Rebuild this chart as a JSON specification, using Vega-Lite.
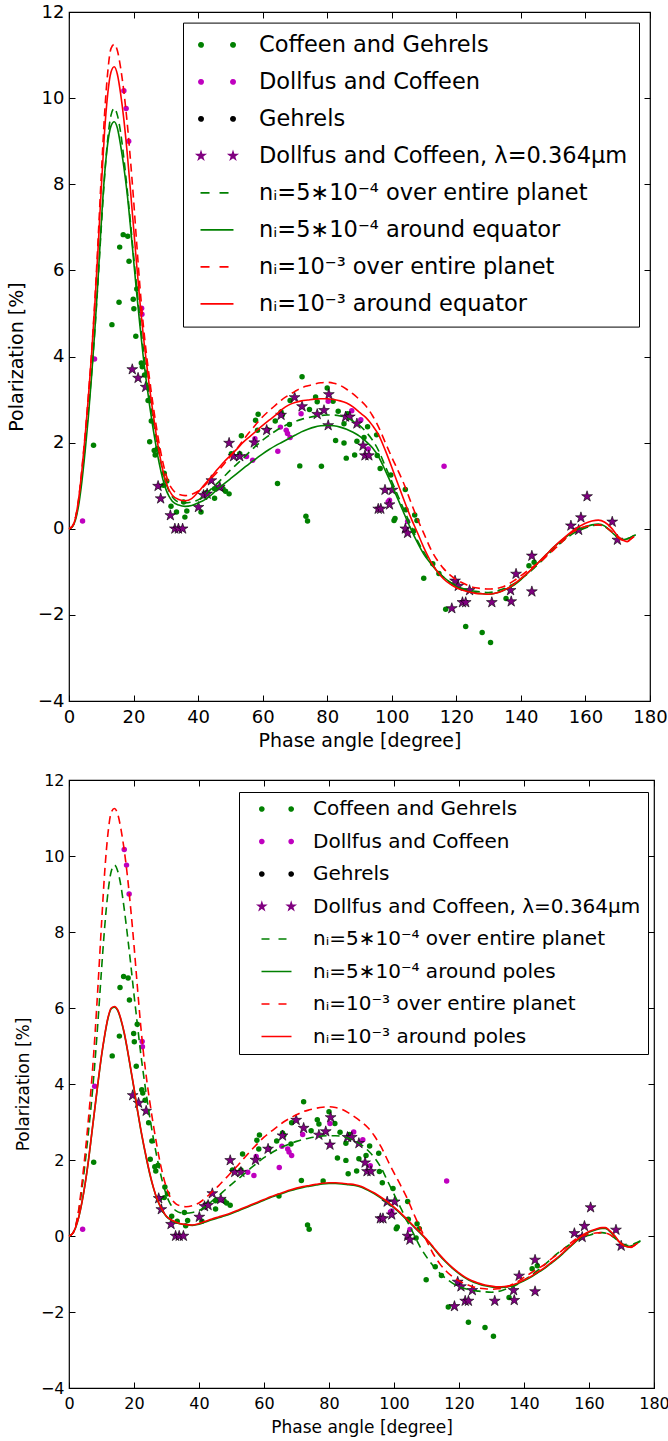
{
"$schema": "https://vega.github.io/schema/vega-lite/v6.json",
"padding": {"left": 6, "top": 2, "right": 5, "bottom": 5},
"spacing": 20,
"config": {
  "font": "DejaVu Sans",
  "view": {"stroke": "black", "strokeWidth": 1.2},
  "axis": {"grid": false, "domain": false, "ticks": true, "tickColor": "black", "tickWidth": 1, "labelColor": "black", "titleColor": "black", "titleFontWeight": "normal", "labelFont": "DejaVu Sans", "titleFont": "DejaVu Sans", "labelFlush": false, "labelOverlap": false},
  "legend": {"labelFont": "DejaVu Sans", "labelColor": "black", "labelLimit": 800, "strokeColor": "black", "fillColor": "white"}
},
"resolve": {"scale": {"color": "independent"}, "legend": {"color": "independent"}},
"datasets": {
"cg": [{"x":7.6,"y":1.94},{"x":13.3,"y":4.74},{"x":15.5,"y":5.26},{"x":15.7,"y":6.54},{"x":16.8,"y":6.83},{"x":18.2,"y":6.79},{"x":18.6,"y":6.21},{"x":19.9,"y":5.33},{"x":20.1,"y":5.11},{"x":20.7,"y":4.47},{"x":21.0,"y":5.57},{"x":22.4,"y":3.85},{"x":22.7,"y":3.76},{"x":23.4,"y":3.57},{"x":24.5,"y":2.98},{"x":25.5,"y":2.5},{"x":25.0,"y":2.02},{"x":26.4,"y":1.82},{"x":26.7,"y":1.71},{"x":27.4,"y":1.86},{"x":27.9,"y":0.99},{"x":29.3,"y":1.01},{"x":29.5,"y":1.29},{"x":30.3,"y":1.11},{"x":31.6,"y":0.52},{"x":33.3,"y":0.39},{"x":35.5,"y":0.62},{"x":35.9,"y":0.27},{"x":36.5,"y":0.41},{"x":40.9,"y":0.39},{"x":42.7,"y":0.84},{"x":45.1,"y":0.71},{"x":45.1,"y":0.93},{"x":47.7,"y":0.93},{"x":48.5,"y":0.87},{"x":49.6,"y":0.81},{"x":50.3,"y":1.74},{"x":52.9,"y":1.74},{"x":53.4,"y":2.16},{"x":57.8,"y":2.52},{"x":58.6,"y":2.66},{"x":58.4,"y":2.29},{"x":61.5,"y":2.3},{"x":63.9,"y":2.5},{"x":64.6,"y":1.05},{"x":65.7,"y":2.71},{"x":66.1,"y":2.65},{"x":68.3,"y":2.42},{"x":68.5,"y":2.98},{"x":71.5,"y":1.46},{"x":72.2,"y":3.53},{"x":73.4,"y":0.29},{"x":73.9,"y":0.18},{"x":74.5,"y":2.77},{"x":76.4,"y":3.06},{"x":76.9,"y":2.95},{"x":78.2,"y":1.45},{"x":80.0,"y":3.27},{"x":81.8,"y":2.96},{"x":82.6,"y":2.05},{"x":83.4,"y":2.73},{"x":85.2,"y":1.99},{"x":85.9,"y":1.64},{"x":85.2,"y":2.44},{"x":86.3,"y":2.67},{"x":88.5,"y":1.71},{"x":89.2,"y":2.03},{"x":91.4,"y":2.12},{"x":92.5,"y":2.37},{"x":95.3,"y":2.18},{"x":95.5,"y":1.7},{"x":96.4,"y":1.4},{"x":99.7,"y":1.25},{"x":101.0,"y":0.24},{"x":100.7,"y":0.19},{"x":104.2,"y":0.91},{"x":104.4,"y":0.44},{"x":107.1,"y":0.32},{"x":107.8,"y":0.19},{"x":106.8,"y":-0.05},{"x":109.9,"y":-1.15},{"x":112.7,"y":-0.81},{"x":114.6,"y":-1.04},{"x":116.7,"y":-1.87},{"x":122.9,"y":-2.27},{"x":128.0,"y":-2.41},{"x":130.6,"y":-2.64},{"x":135.4,"y":-1.62},{"x":142.5,"y":-0.86},{"x":144.1,"y":-0.78}],
"dc": [{"x":4.2,"y":0.18},{"x":7.9,"y":3.94},{"x":17.0,"y":10.17},{"x":17.7,"y":9.76},{"x":18.5,"y":9.0},{"x":22.5,"y":5.12},{"x":22.6,"y":4.98},{"x":46.9,"y":0.95},{"x":55.0,"y":1.68},{"x":56.9,"y":1.59},{"x":57.6,"y":2.09},{"x":64.7,"y":1.8},{"x":65.5,"y":2.36},{"x":67.3,"y":2.29},{"x":67.7,"y":2.21},{"x":68.5,"y":2.12},{"x":71.9,"y":2.67},{"x":80.3,"y":2.96},{"x":87.6,"y":2.74},{"x":90.4,"y":2.53},{"x":92.7,"y":1.85},{"x":98.9,"y":0.63},{"x":99.3,"y":0.66},{"x":104.9,"y":0.17},{"x":116.2,"y":1.45},{"x":157.5,"y":-0.02}],
"st": [{"x":19.6,"y":3.7},{"x":21.4,"y":3.5},{"x":23.75,"y":3.29},{"x":27.6,"y":0.99},{"x":28.4,"y":0.7},{"x":31.4,"y":0.31},{"x":32.8,"y":0},{"x":33.9,"y":0},{"x":35.2,"y":0},{"x":40.1,"y":0.5},{"x":41.7,"y":0.78},{"x":42.8,"y":0.81},{"x":44.1,"y":1.12},{"x":46.7,"y":0.97},{"x":49.6,"y":1.99},{"x":51.0,"y":1.68},{"x":52.9,"y":1.68},{"x":57.4,"y":2.0},{"x":61.25,"y":2.29},{"x":65.7,"y":2.64},{"x":69.9,"y":3.05},{"x":72.2,"y":2.84},{"x":76.9,"y":2.66},{"x":79.0,"y":2.75},{"x":80.5,"y":3.12},{"x":80.3,"y":2.4},{"x":85.7,"y":2.6},{"x":87.0,"y":2.6},{"x":89.2,"y":2.44},{"x":91.1,"y":1.93},{"x":91.7,"y":1.7},{"x":92.9,"y":1.7},{"x":97.9,"y":0.9},{"x":100.2,"y":0.9},{"x":95.8,"y":0.46},{"x":96.6,"y":0.46},{"x":99.3,"y":0.56},{"x":104.2,"y":0.0},{"x":104.9,"y":-0.1},{"x":119.6,"y":-1.21},{"x":120.6,"y":-1.33},{"x":121.9,"y":-1.71},{"x":122.9,"y":-1.71},{"x":124.1,"y":-1.43},{"x":118.6,"y":-1.85},{"x":131.0,"y":-1.71},{"x":136.8,"y":-1.43},{"x":137.0,"y":-1.69},{"x":138.5,"y":-1.05},{"x":143.4,"y":-0.63},{"x":143.4,"y":-1.46},{"x":155.5,"y":0.07},{"x":157.9,"y":-0.03},{"x":158.6,"y":0.26},{"x":160.5,"y":0.75},{"x":168.3,"y":0.16},{"x":169.9,"y":-0.26}],
"g5e": [{"x":0,"y":0},{"x":1,"y":0.05},{"x":2,"y":0.25},{"x":3,"y":0.65},{"x":4,"y":1.25},{"x":5,"y":1.95},{"x":6,"y":2.75},{"x":7,"y":3.6},{"x":8,"y":4.6},{"x":9,"y":5.75},{"x":10,"y":7.0},{"x":11,"y":8.15},{"x":12,"y":9.05},{"x":13,"y":9.6},{"x":14,"y":9.76},{"x":15,"y":9.6},{"x":16,"y":9.2},{"x":17,"y":8.6},{"x":18,"y":7.9},{"x":19,"y":7.15},{"x":20,"y":6.35},{"x":21,"y":5.6},{"x":22,"y":4.85},{"x":23,"y":4.2},{"x":24,"y":3.6},{"x":25,"y":3.05},{"x":26,"y":2.55},{"x":27,"y":2.1},{"x":28,"y":1.7},{"x":29,"y":1.35},{"x":30,"y":1.07},{"x":31,"y":0.87},{"x":32,"y":0.74},{"x":33,"y":0.66},{"x":34,"y":0.62},{"x":36,"y":0.6},{"x":38,"y":0.62},{"x":40,"y":0.67},{"x":42,"y":0.77},{"x":44,"y":0.92},{"x":46,"y":1.06},{"x":48,"y":1.21},{"x":50,"y":1.36},{"x":52,"y":1.5},{"x":54,"y":1.64},{"x":56,"y":1.79},{"x":58,"y":1.93},{"x":60,"y":2.06},{"x":62,"y":2.17},{"x":64,"y":2.27},{"x":66,"y":2.36},{"x":68,"y":2.43},{"x":70,"y":2.49},{"x":72,"y":2.54},{"x":74,"y":2.58},{"x":76,"y":2.61},{"x":78,"y":2.63},{"x":80,"y":2.64},{"x":82,"y":2.64},{"x":84,"y":2.62},{"x":86,"y":2.57},{"x":88,"y":2.5},{"x":90,"y":2.4},{"x":92,"y":2.25},{"x":94,"y":2.06},{"x":96,"y":1.8},{"x":98,"y":1.45},{"x":100,"y":1.1},{"x":102,"y":0.75},{"x":104,"y":0.4},{"x":106,"y":0.06},{"x":108,"y":-0.28},{"x":110,"y":-0.55},{"x":112,"y":-0.78},{"x":114,"y":-0.97},{"x":116,"y":-1.12},{"x":118,"y":-1.24},{"x":120,"y":-1.33},{"x":122,"y":-1.39},{"x":124,"y":-1.43},{"x":126,"y":-1.45},{"x":128,"y":-1.47},{"x":130,"y":-1.48},{"x":132,"y":-1.46},{"x":134,"y":-1.41},{"x":136,"y":-1.35},{"x":138,"y":-1.27},{"x":140,"y":-1.16},{"x":142,"y":-1.05},{"x":144,"y":-0.92},{"x":146,"y":-0.78},{"x":148,"y":-0.63},{"x":150,"y":-0.48},{"x":152,"y":-0.35},{"x":154,"y":-0.23},{"x":156,"y":-0.12},{"x":158,"y":-0.04},{"x":160,"y":0.02},{"x":162,"y":0.07},{"x":164,"y":0.09},{"x":166,"y":0.05},{"x":168,"y":-0.06},{"x":170,"y":-0.2},{"x":172,"y":-0.25},{"x":174,"y":-0.2},{"x":176,"y":-0.12}],
"r1e": [{"x":0,"y":0},{"x":1,"y":0.05},{"x":2,"y":0.25},{"x":3,"y":0.7},{"x":4,"y":1.4},{"x":5,"y":2.2},{"x":6,"y":3.1},{"x":7,"y":4.1},{"x":8,"y":5.3},{"x":9,"y":6.7},{"x":10,"y":8.2},{"x":11,"y":9.6},{"x":12,"y":10.6},{"x":13,"y":11.15},{"x":14,"y":11.25},{"x":15,"y":11.1},{"x":16,"y":10.7},{"x":17,"y":10.15},{"x":18,"y":9.45},{"x":19,"y":8.6},{"x":20,"y":7.65},{"x":21,"y":6.6},{"x":22,"y":5.6},{"x":23,"y":4.75},{"x":24,"y":4.05},{"x":25,"y":3.45},{"x":26,"y":2.9},{"x":27,"y":2.4},{"x":28,"y":1.95},{"x":29,"y":1.57},{"x":30,"y":1.27},{"x":31,"y":1.05},{"x":32,"y":0.92},{"x":33,"y":0.84},{"x":34,"y":0.8},{"x":36,"y":0.77},{"x":38,"y":0.8},{"x":40,"y":0.87},{"x":42,"y":1.0},{"x":44,"y":1.16},{"x":46,"y":1.32},{"x":48,"y":1.5},{"x":50,"y":1.68},{"x":52,"y":1.86},{"x":54,"y":2.06},{"x":56,"y":2.25},{"x":58,"y":2.43},{"x":60,"y":2.6},{"x":62,"y":2.74},{"x":64,"y":2.87},{"x":66,"y":3.0},{"x":68,"y":3.1},{"x":70,"y":3.19},{"x":72,"y":3.27},{"x":74,"y":3.32},{"x":76,"y":3.36},{"x":78,"y":3.39},{"x":80,"y":3.4},{"x":82,"y":3.38},{"x":84,"y":3.33},{"x":86,"y":3.24},{"x":88,"y":3.13},{"x":90,"y":3.0},{"x":92,"y":2.85},{"x":94,"y":2.63},{"x":96,"y":2.35},{"x":98,"y":2.0},{"x":100,"y":1.66},{"x":102,"y":1.34},{"x":104,"y":1.0},{"x":106,"y":0.6},{"x":108,"y":0.22},{"x":110,"y":-0.12},{"x":112,"y":-0.46},{"x":114,"y":-0.72},{"x":116,"y":-0.92},{"x":118,"y":-1.07},{"x":120,"y":-1.18},{"x":122,"y":-1.26},{"x":124,"y":-1.33},{"x":126,"y":-1.37},{"x":128,"y":-1.39},{"x":130,"y":-1.4},{"x":132,"y":-1.39},{"x":134,"y":-1.36},{"x":136,"y":-1.29},{"x":138,"y":-1.2},{"x":140,"y":-1.09},{"x":142,"y":-0.98},{"x":144,"y":-0.87},{"x":146,"y":-0.77},{"x":148,"y":-0.63},{"x":150,"y":-0.5},{"x":152,"y":-0.36},{"x":154,"y":-0.21},{"x":156,"y":-0.08},{"x":158,"y":0.0},{"x":160,"y":0.05},{"x":162,"y":0.08},{"x":164,"y":0.09},{"x":166,"y":0.05},{"x":168,"y":-0.06},{"x":170,"y":-0.2},{"x":172,"y":-0.28},{"x":173,"y":-0.29},{"x":174,"y":-0.24},{"x":175,"y":-0.18}],
"g5q": [{"x":0,"y":0},{"x":1,"y":0.04},{"x":2,"y":0.2},{"x":3,"y":0.55},{"x":4,"y":1.1},{"x":5,"y":1.8},{"x":6,"y":2.6},{"x":7,"y":3.55},{"x":8,"y":4.6},{"x":9,"y":5.8},{"x":10,"y":7.1},{"x":11,"y":8.2},{"x":12,"y":8.95},{"x":13,"y":9.35},{"x":14,"y":9.45},{"x":15,"y":9.3},{"x":16,"y":8.9},{"x":17,"y":8.4},{"x":18,"y":7.8},{"x":19,"y":7.05},{"x":20,"y":6.25},{"x":21,"y":5.45},{"x":22,"y":4.7},{"x":23,"y":4.0},{"x":24,"y":3.4},{"x":25,"y":2.85},{"x":26,"y":2.35},{"x":27,"y":1.9},{"x":28,"y":1.5},{"x":29,"y":1.17},{"x":30,"y":0.92},{"x":31,"y":0.75},{"x":32,"y":0.64},{"x":34,"y":0.55},{"x":36,"y":0.52},{"x":38,"y":0.54},{"x":40,"y":0.6},{"x":42,"y":0.67},{"x":44,"y":0.78},{"x":46,"y":0.92},{"x":48,"y":1.04},{"x":50,"y":1.16},{"x":52,"y":1.28},{"x":54,"y":1.4},{"x":56,"y":1.52},{"x":58,"y":1.63},{"x":60,"y":1.74},{"x":62,"y":1.84},{"x":64,"y":1.93},{"x":66,"y":2.01},{"x":68,"y":2.09},{"x":70,"y":2.17},{"x":72,"y":2.25},{"x":74,"y":2.31},{"x":76,"y":2.36},{"x":78,"y":2.39},{"x":80,"y":2.4},{"x":82,"y":2.39},{"x":84,"y":2.36},{"x":86,"y":2.31},{"x":88,"y":2.24},{"x":90,"y":2.15},{"x":92,"y":2.03},{"x":94,"y":1.88},{"x":96,"y":1.66},{"x":98,"y":1.35},{"x":100,"y":1.02},{"x":102,"y":0.67},{"x":104,"y":0.32},{"x":106,"y":-0.02},{"x":108,"y":-0.33},{"x":110,"y":-0.6},{"x":112,"y":-0.8},{"x":114,"y":-0.98},{"x":116,"y":-1.12},{"x":118,"y":-1.24},{"x":120,"y":-1.34},{"x":122,"y":-1.41},{"x":124,"y":-1.46},{"x":126,"y":-1.49},{"x":128,"y":-1.51},{"x":130,"y":-1.52},{"x":132,"y":-1.5},{"x":134,"y":-1.45},{"x":136,"y":-1.38},{"x":138,"y":-1.3},{"x":140,"y":-1.18},{"x":142,"y":-1.04},{"x":144,"y":-0.89},{"x":146,"y":-0.74},{"x":148,"y":-0.59},{"x":150,"y":-0.44},{"x":152,"y":-0.31},{"x":154,"y":-0.19},{"x":156,"y":-0.08},{"x":158,"y":0.0},{"x":160,"y":0.05},{"x":162,"y":0.09},{"x":164,"y":0.11},{"x":166,"y":0.06},{"x":168,"y":-0.07},{"x":170,"y":-0.2},{"x":172,"y":-0.25},{"x":174,"y":-0.2},{"x":175.6,"y":-0.14}],
"r1q": [{"x":0,"y":0},{"x":1,"y":0.05},{"x":2,"y":0.25},{"x":3,"y":0.7},{"x":4,"y":1.35},{"x":5,"y":2.15},{"x":6,"y":3.05},{"x":7,"y":4.05},{"x":8,"y":5.2},{"x":9,"y":6.5},{"x":10,"y":7.9},{"x":11,"y":9.2},{"x":12,"y":10.1},{"x":13,"y":10.6},{"x":14,"y":10.73},{"x":15,"y":10.55},{"x":16,"y":10.1},{"x":17,"y":9.5},{"x":18,"y":8.75},{"x":19,"y":7.9},{"x":20,"y":7.0},{"x":21,"y":6.1},{"x":22,"y":5.25},{"x":23,"y":4.5},{"x":24,"y":3.85},{"x":25,"y":3.25},{"x":26,"y":2.7},{"x":27,"y":2.2},{"x":28,"y":1.75},{"x":29,"y":1.38},{"x":30,"y":1.1},{"x":31,"y":0.9},{"x":32,"y":0.78},{"x":34,"y":0.68},{"x":36,"y":0.65},{"x":38,"y":0.7},{"x":40,"y":0.85},{"x":42,"y":1.03},{"x":44,"y":1.2},{"x":46,"y":1.38},{"x":48,"y":1.55},{"x":50,"y":1.7},{"x":52,"y":1.85},{"x":54,"y":2.01},{"x":56,"y":2.14},{"x":58,"y":2.27},{"x":60,"y":2.4},{"x":62,"y":2.52},{"x":64,"y":2.64},{"x":66,"y":2.77},{"x":68,"y":2.87},{"x":70,"y":2.93},{"x":72,"y":2.97},{"x":74,"y":2.99},{"x":76,"y":3.01},{"x":78,"y":3.02},{"x":80,"y":3.02},{"x":82,"y":3.0},{"x":84,"y":2.97},{"x":86,"y":2.92},{"x":88,"y":2.83},{"x":90,"y":2.7},{"x":92,"y":2.58},{"x":94,"y":2.4},{"x":96,"y":2.17},{"x":98,"y":1.82},{"x":100,"y":1.43},{"x":102,"y":1.02},{"x":104,"y":0.62},{"x":106,"y":0.24},{"x":108,"y":-0.1},{"x":110,"y":-0.45},{"x":112,"y":-0.75},{"x":114,"y":-0.98},{"x":116,"y":-1.16},{"x":118,"y":-1.28},{"x":120,"y":-1.37},{"x":122,"y":-1.43},{"x":124,"y":-1.47},{"x":126,"y":-1.5},{"x":128,"y":-1.51},{"x":130,"y":-1.52},{"x":132,"y":-1.5},{"x":134,"y":-1.45},{"x":136,"y":-1.38},{"x":138,"y":-1.28},{"x":140,"y":-1.16},{"x":142,"y":-1.03},{"x":144,"y":-0.89},{"x":146,"y":-0.74},{"x":148,"y":-0.59},{"x":150,"y":-0.44},{"x":152,"y":-0.3},{"x":154,"y":-0.17},{"x":156,"y":-0.05},{"x":158,"y":0.05},{"x":160,"y":0.13},{"x":162,"y":0.18},{"x":164,"y":0.2},{"x":166,"y":0.15},{"x":168,"y":0.02},{"x":170,"y":-0.17},{"x":172,"y":-0.28},{"x":173,"y":-0.3},{"x":174,"y":-0.24},{"x":175,"y":-0.18}],
"g5p": [{"x":0,"y":0},{"x":1,"y":0.05},{"x":2,"y":0.21},{"x":3,"y":0.49},{"x":4,"y":0.89},{"x":5,"y":1.39},{"x":6,"y":1.99},{"x":7,"y":2.69},{"x":8,"y":3.39},{"x":9,"y":4.08},{"x":10,"y":4.73},{"x":11,"y":5.28},{"x":12,"y":5.73},{"x":13,"y":5.98},{"x":14,"y":6.02},{"x":15,"y":5.93},{"x":16,"y":5.68},{"x":17,"y":5.33},{"x":18,"y":4.88},{"x":19,"y":4.38},{"x":20,"y":3.88},{"x":21,"y":3.33},{"x":22,"y":2.83},{"x":23,"y":2.38},{"x":24,"y":1.96},{"x":25,"y":1.58},{"x":26,"y":1.26},{"x":27,"y":0.99},{"x":28,"y":0.79},{"x":29,"y":0.63},{"x":30,"y":0.51},{"x":32,"y":0.39},{"x":34,"y":0.32},{"x":36,"y":0.29},{"x":38,"y":0.28},{"x":40,"y":0.31},{"x":42,"y":0.37},{"x":44,"y":0.43},{"x":46,"y":0.48},{"x":48,"y":0.53},{"x":50,"y":0.59},{"x":52,"y":0.66},{"x":54,"y":0.73},{"x":56,"y":0.8},{"x":58,"y":0.87},{"x":60,"y":0.94},{"x":62,"y":1.01},{"x":64,"y":1.07},{"x":66,"y":1.13},{"x":68,"y":1.19},{"x":70,"y":1.24},{"x":72,"y":1.28},{"x":74,"y":1.31},{"x":76,"y":1.34},{"x":78,"y":1.37},{"x":80,"y":1.38},{"x":82,"y":1.38},{"x":84,"y":1.37},{"x":86,"y":1.35},{"x":88,"y":1.33},{"x":90,"y":1.28},{"x":92,"y":1.2},{"x":94,"y":1.11},{"x":96,"y":1.0},{"x":98,"y":0.88},{"x":100,"y":0.74},{"x":102,"y":0.59},{"x":104,"y":0.42},{"x":106,"y":0.25},{"x":108,"y":0.08},{"x":110,"y":-0.1},{"x":112,"y":-0.3},{"x":114,"y":-0.51},{"x":116,"y":-0.69},{"x":118,"y":-0.85},{"x":120,"y":-0.99},{"x":122,"y":-1.11},{"x":124,"y":-1.2},{"x":126,"y":-1.26},{"x":128,"y":-1.31},{"x":130,"y":-1.34},{"x":132,"y":-1.36},{"x":134,"y":-1.35},{"x":136,"y":-1.32},{"x":138,"y":-1.26},{"x":140,"y":-1.18},{"x":142,"y":-1.09},{"x":144,"y":-0.98},{"x":146,"y":-0.87},{"x":148,"y":-0.74},{"x":150,"y":-0.61},{"x":152,"y":-0.46},{"x":154,"y":-0.3},{"x":156,"y":-0.14},{"x":158,"y":0.0},{"x":160,"y":0.1},{"x":162,"y":0.16},{"x":164,"y":0.2},{"x":165,"y":0.2},{"x":166,"y":0.15},{"x":168,"y":-0.02},{"x":170,"y":-0.22},{"x":172,"y":-0.28},{"x":174,"y":-0.23},{"x":175.7,"y":-0.14}],
"r1p": [{"x":0,"y":0},{"x":1,"y":0.05},{"x":2,"y":0.22},{"x":3,"y":0.5},{"x":4,"y":0.9},{"x":5,"y":1.4},{"x":6,"y":2.0},{"x":7,"y":2.7},{"x":8,"y":3.4},{"x":9,"y":4.1},{"x":10,"y":4.75},{"x":11,"y":5.3},{"x":12,"y":5.75},{"x":13,"y":6.0},{"x":14,"y":6.04},{"x":15,"y":5.95},{"x":16,"y":5.7},{"x":17,"y":5.35},{"x":18,"y":4.9},{"x":19,"y":4.4},{"x":20,"y":3.9},{"x":21,"y":3.35},{"x":22,"y":2.85},{"x":23,"y":2.4},{"x":24,"y":1.98},{"x":25,"y":1.6},{"x":26,"y":1.27},{"x":27,"y":1.0},{"x":28,"y":0.8},{"x":29,"y":0.64},{"x":30,"y":0.52},{"x":32,"y":0.4},{"x":34,"y":0.33},{"x":36,"y":0.3},{"x":38,"y":0.29},{"x":40,"y":0.33},{"x":42,"y":0.39},{"x":44,"y":0.45},{"x":46,"y":0.5},{"x":48,"y":0.55},{"x":50,"y":0.61},{"x":52,"y":0.68},{"x":54,"y":0.75},{"x":56,"y":0.82},{"x":58,"y":0.89},{"x":60,"y":0.96},{"x":62,"y":1.03},{"x":64,"y":1.09},{"x":66,"y":1.15},{"x":68,"y":1.21},{"x":70,"y":1.26},{"x":72,"y":1.3},{"x":74,"y":1.33},{"x":76,"y":1.36},{"x":78,"y":1.39},{"x":80,"y":1.4},{"x":82,"y":1.4},{"x":84,"y":1.39},{"x":86,"y":1.37},{"x":88,"y":1.35},{"x":90,"y":1.3},{"x":92,"y":1.22},{"x":94,"y":1.13},{"x":96,"y":1.02},{"x":98,"y":0.9},{"x":100,"y":0.76},{"x":102,"y":0.61},{"x":104,"y":0.44},{"x":106,"y":0.27},{"x":108,"y":0.1},{"x":110,"y":-0.08},{"x":112,"y":-0.28},{"x":114,"y":-0.49},{"x":116,"y":-0.67},{"x":118,"y":-0.83},{"x":120,"y":-0.97},{"x":122,"y":-1.09},{"x":124,"y":-1.18},{"x":126,"y":-1.24},{"x":128,"y":-1.29},{"x":130,"y":-1.32},{"x":132,"y":-1.34},{"x":134,"y":-1.33},{"x":136,"y":-1.3},{"x":138,"y":-1.24},{"x":140,"y":-1.16},{"x":142,"y":-1.07},{"x":144,"y":-0.96},{"x":146,"y":-0.85},{"x":148,"y":-0.72},{"x":150,"y":-0.59},{"x":152,"y":-0.44},{"x":154,"y":-0.28},{"x":156,"y":-0.12},{"x":158,"y":0.02},{"x":160,"y":0.12},{"x":162,"y":0.18},{"x":164,"y":0.22},{"x":165,"y":0.22},{"x":166,"y":0.17},{"x":168,"y":0.0},{"x":170,"y":-0.22},{"x":172,"y":-0.29},{"x":173,"y":-0.3},{"x":174,"y":-0.25},{"x":175,"y":-0.19}]
},
"vconcat": [
{
  "width": 581, "height": 689,
  "layer": [
    {"data": {"name": "cg"},
     "mark": {"type": "point", "filled": true, "shape": "circle", "size": 30, "opacity": 1},
     "encoding": {
       "x": {"field": "x", "type": "quantitative", "scale": {"domain": [0, 180], "nice": false},
             "axis": {"orient": "bottom", "values": [0,20,40,60,80,100,120,140,160,180], "title": "Phase angle [degree]", "labelFontSize": 18, "titleFontSize": 19, "tickSize": -6, "labelPadding": 13, "titlePadding": 5}},
       "y": {"field": "y", "type": "quantitative", "scale": {"domain": [-4, 12], "nice": false},
             "axis": {"orient": "left", "values": [-4,-2,0,2,4,6,8,10,12], "title": "Polarization [%]", "labelFontSize": 18, "titleFontSize": 19, "tickSize": -6, "labelPadding": 11, "titlePadding": 11}},
       "color": {"datum": "Coffeen and Gehrels", "type": "nominal",
         "scale": {"domain": ["Coffeen and Gehrels", "Dollfus and Coffeen", "Gehrels", "Dollfus and Coffeen, λ=0.364μm", "nᵢ=5∗10⁻⁴ over entire planet", "nᵢ=5∗10⁻⁴ around equator", "nᵢ=10⁻³ over entire planet", "nᵢ=10⁻³ around equator"],
                   "range": ["#008000", "#bf00bf", "#000000", "#800080", "#008000", "#008000", "#ff0000", "#ff0000"]},
         "legend": {"orient": "none", "legendX": 114, "legendY": 10.6, "title": null, "direction": "vertical",
           "symbolSize": 64, "symbolOffset": 11.75, "labelOffset": 30.75, "labelFontSize": 22.5, "rowPadding": 14, "padding": 11,
           "symbolStrokeWidth": 1.6,
           "symbolType": {"expr": "datum.index < 3 ? 'M-4.54,0A0.54,0.54 0 1,0 -3.46,0A0.54,0.54 0 1,0 -4.54,0ZM3.46,0A0.54,0.54 0 1,0 4.54,0A0.54,0.54 0 1,0 3.46,0Z' : (datum.index == 3 ? 'M-4,-0.95L-3.787,-0.294L-3.097,-0.294L-3.655,0.112L-3.441,0.769L-4,0.363L-4.559,0.769L-4.345,0.112L-4.903,-0.294L-4.213,-0.294ZM4,-0.95L4.213,-0.294L4.903,-0.294L4.345,0.112L4.559,0.769L4,0.363L3.441,0.769L3.655,0.112L3.097,-0.294L3.787,-0.294Z' : 'M-4.12,0L4.12,0')"},
           "symbolStrokeColor": {"expr": "['transparent','transparent','transparent','rgba(0,0,0,0.4)','#008000','#008000','#ff0000','#ff0000'][datum.index]"},
           "symbolDash": {"expr": "(datum.index == 4 || datum.index == 6) ? [9,10] : [1,0]"}}}
     }},
    {"data": {"name": "dc"},
     "mark": {"type": "point", "filled": true, "shape": "circle", "size": 30, "opacity": 1},
     "encoding": {
       "x": {"field": "x", "type": "quantitative", "axis": {"orient": "top", "values": [0,20,40,60,80,100,120,140,160,180], "labels": false, "title": null, "tickSize": -6}},
       "y": {"field": "y", "type": "quantitative", "axis": {"orient": "right", "values": [-4,-2,0,2,4,6,8,10,12], "labels": false, "title": null, "tickSize": -6}},
       "color": {"datum": "Dollfus and Coffeen", "type": "nominal", "legend": null}
     }},
    {"data": {"name": "st"},
     "mark": {"type": "point", "filled": true, "shape": "M0,-1L0.2245,-0.309L0.951,-0.309L0.3633,0.118L0.588,0.809L0,0.382L-0.588,0.809L-0.3633,0.118L-0.951,-0.309L-0.2245,-0.309Z", "size": 130, "stroke": "black", "strokeWidth": 0.6, "opacity": 1},
     "encoding": {
       "x": {"field": "x", "type": "quantitative", "axis": null},
       "y": {"field": "y", "type": "quantitative", "axis": null},
       "color": {"datum": "Dollfus and Coffeen, λ=0.364μm", "type": "nominal", "legend": null}
     }},
    {"data": {"name": "g5e"},
     "mark": {"type": "line", "strokeDash": [8, 5], "strokeWidth": 1.6, "interpolate": "monotone"},
     "encoding": {"x": {"field": "x", "type": "quantitative", "axis": null}, "y": {"field": "y", "type": "quantitative", "axis": null},
       "color": {"datum": "nᵢ=5∗10⁻⁴ over entire planet", "type": "nominal", "legend": null}}},
    {"data": {"name": "g5q"},
     "mark": {"type": "line", "strokeWidth": 1.6, "interpolate": "monotone"},
     "encoding": {"x": {"field": "x", "type": "quantitative", "axis": null}, "y": {"field": "y", "type": "quantitative", "axis": null},
       "color": {"datum": "nᵢ=5∗10⁻⁴ around equator", "type": "nominal", "legend": null}}},
    {"data": {"name": "r1e"},
     "mark": {"type": "line", "strokeDash": [8, 5], "strokeWidth": 1.6, "interpolate": "monotone"},
     "encoding": {"x": {"field": "x", "type": "quantitative", "axis": null}, "y": {"field": "y", "type": "quantitative", "axis": null},
       "color": {"datum": "nᵢ=10⁻³ over entire planet", "type": "nominal", "legend": null}}},
    {"data": {"name": "r1q"},
     "mark": {"type": "line", "strokeWidth": 1.6, "interpolate": "monotone"},
     "encoding": {"x": {"field": "x", "type": "quantitative", "axis": null}, "y": {"field": "y", "type": "quantitative", "axis": null},
       "color": {"datum": "nᵢ=10⁻³ around equator", "type": "nominal", "legend": null}}}
  ]
},
{
  "width": 585, "height": 608,
  "layer": [
    {"data": {"name": "cg"},
     "mark": {"type": "point", "filled": true, "shape": "circle", "size": 30, "opacity": 1},
     "encoding": {
       "x": {"field": "x", "type": "quantitative", "scale": {"domain": [0, 180], "nice": false},
             "axis": {"orient": "bottom", "values": [0,20,40,60,80,100,120,140,160,180], "title": "Phase angle [degree]", "labelFontSize": 16, "titleFontSize": 17, "tickSize": -6, "labelPadding": 13, "titlePadding": 8}},
       "y": {"field": "y", "type": "quantitative", "scale": {"domain": [-4, 12], "nice": false},
             "axis": {"orient": "left", "values": [-4,-2,0,2,4,6,8,10,12], "title": "Polarization [%]", "labelFontSize": 16, "titleFontSize": 17, "tickSize": -6, "labelPadding": 11, "titlePadding": 8}},
       "color": {"datum": "Coffeen and Gehrels", "type": "nominal",
         "scale": {"domain": ["Coffeen and Gehrels", "Dollfus and Coffeen", "Gehrels", "Dollfus and Coffeen, λ=0.364μm", "nᵢ=5∗10⁻⁴ over entire planet", "nᵢ=5∗10⁻⁴ around poles", "nᵢ=10⁻³ over entire planet", "nᵢ=10⁻³ around poles"],
                   "range": ["#008000", "#bf00bf", "#000000", "#800080", "#008000", "#008000", "#ff0000", "#ff0000"]},
         "legend": {"orient": "none", "legendX": 170, "legendY": 12, "title": null, "direction": "vertical",
           "symbolSize": 64, "symbolOffset": 20.5, "labelOffset": 26.5, "labelFontSize": 20, "rowPadding": 12.5, "padding": 7,
           "symbolStrokeWidth": 1.6,
           "symbolType": {"expr": "datum.index < 3 ? 'M-4.17,0A0.5,0.5 0 1,0 -3.17,0A0.5,0.5 0 1,0 -4.17,0ZM3.17,0A0.5,0.5 0 1,0 4.17,0A0.5,0.5 0 1,0 3.17,0Z' : (datum.index == 3 ? 'M-3.67,-0.9L-3.468,-0.278L-2.814,-0.278L-3.343,0.106L-3.141,0.728L-3.67,0.344L-4.199,0.728L-3.997,0.106L-4.526,-0.278L-3.872,-0.278ZM3.67,-0.9L3.872,-0.278L4.526,-0.278L3.997,0.106L4.199,0.728L3.67,0.344L3.141,0.728L3.343,0.106L2.814,-0.278L3.468,-0.278Z' : 'M-3.75,0L3.75,0')"},
           "symbolStrokeColor": {"expr": "['transparent','transparent','transparent','rgba(0,0,0,0.4)','#008000','#008000','#ff0000','#ff0000'][datum.index]"},
           "symbolDash": {"expr": "(datum.index == 4 || datum.index == 6) ? [8,9] : [1,0]"}}}
     }},
    {"data": {"name": "dc"},
     "mark": {"type": "point", "filled": true, "shape": "circle", "size": 30, "opacity": 1},
     "encoding": {
       "x": {"field": "x", "type": "quantitative", "axis": {"orient": "top", "values": [0,20,40,60,80,100,120,140,160,180], "labels": false, "title": null, "tickSize": -6}},
       "y": {"field": "y", "type": "quantitative", "axis": {"orient": "right", "values": [-4,-2,0,2,4,6,8,10,12], "labels": false, "title": null, "tickSize": -6}},
       "color": {"datum": "Dollfus and Coffeen", "type": "nominal", "legend": null}
     }},
    {"data": {"name": "st"},
     "mark": {"type": "point", "filled": true, "shape": "M0,-1L0.2245,-0.309L0.951,-0.309L0.3633,0.118L0.588,0.809L0,0.382L-0.588,0.809L-0.3633,0.118L-0.951,-0.309L-0.2245,-0.309Z", "size": 130, "stroke": "black", "strokeWidth": 0.6, "opacity": 1},
     "encoding": {
       "x": {"field": "x", "type": "quantitative", "axis": null},
       "y": {"field": "y", "type": "quantitative", "axis": null},
       "color": {"datum": "Dollfus and Coffeen, λ=0.364μm", "type": "nominal", "legend": null}
     }},
    {"data": {"name": "g5e"},
     "mark": {"type": "line", "strokeDash": [8, 5], "strokeWidth": 1.6, "interpolate": "monotone"},
     "encoding": {"x": {"field": "x", "type": "quantitative", "axis": null}, "y": {"field": "y", "type": "quantitative", "axis": null},
       "color": {"datum": "nᵢ=5∗10⁻⁴ over entire planet", "type": "nominal", "legend": null}}},
    {"data": {"name": "g5p"},
     "mark": {"type": "line", "strokeWidth": 1.6, "interpolate": "monotone"},
     "encoding": {"x": {"field": "x", "type": "quantitative", "axis": null}, "y": {"field": "y", "type": "quantitative", "axis": null},
       "color": {"datum": "nᵢ=5∗10⁻⁴ around poles", "type": "nominal", "legend": null}}},
    {"data": {"name": "r1e"},
     "mark": {"type": "line", "strokeDash": [8, 5], "strokeWidth": 1.6, "interpolate": "monotone"},
     "encoding": {"x": {"field": "x", "type": "quantitative", "axis": null}, "y": {"field": "y", "type": "quantitative", "axis": null},
       "color": {"datum": "nᵢ=10⁻³ over entire planet", "type": "nominal", "legend": null}}},
    {"data": {"name": "r1p"},
     "mark": {"type": "line", "strokeWidth": 1.6, "interpolate": "monotone"},
     "encoding": {"x": {"field": "x", "type": "quantitative", "axis": null}, "y": {"field": "y", "type": "quantitative", "axis": null},
       "color": {"datum": "nᵢ=10⁻³ around poles", "type": "nominal", "legend": null}}}
  ]
}
]
}
